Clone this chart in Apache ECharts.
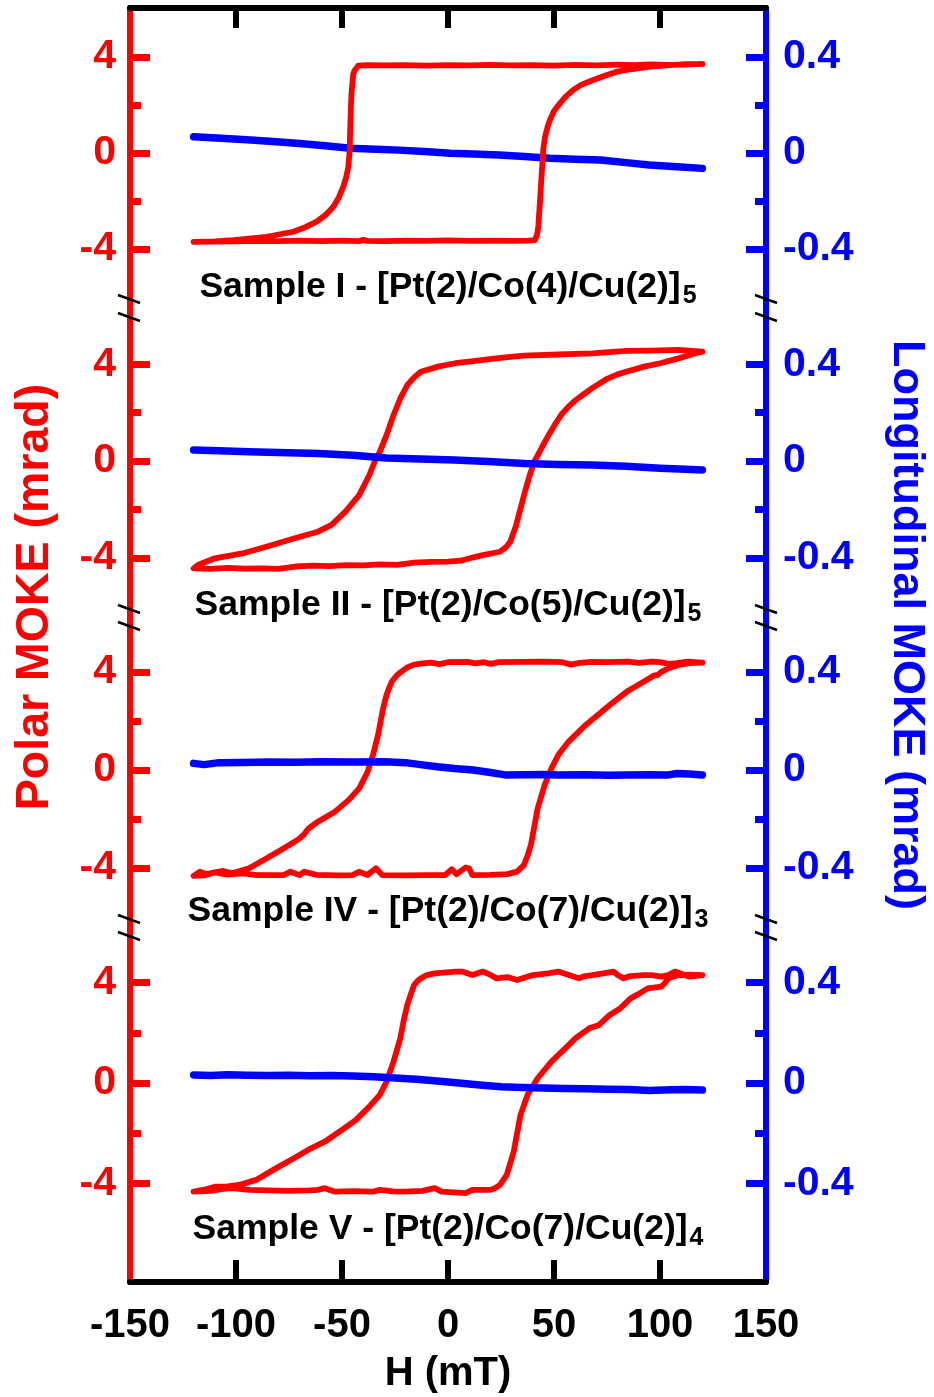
<!DOCTYPE html>
<html><head><meta charset="utf-8">
<script src="https://cdn.jsdelivr.net/npm/echarts@6/dist/echarts.min.js"></script>
<style>html,body{margin:0;padding:0;background:#fff}#c{width:934px;height:1397px}</style>
</head><body><div id="c"></div>
<script>
// ---------------- DATA (H in mT, Polar MOKE in mrad, Longitudinal MOKE in mrad) ----------------
const xTickLabels = [-150, -100, -50, 0, 50, 100, 150];
const polarTicks = [-4, 0, 4];
const polarMinorTicks = [-2, 2];
const longTicks = [-0.4, 0, 0.4];
const longMinorTicks = [-0.2, 0.2];

const sampleLabels = ['Sample I - [Pt(2)/Co(4)/Cu(2)]', 'Sample II - [Pt(2)/Co(5)/Cu(2)]', 'Sample IV - [Pt(2)/Co(7)/Cu(2)]', 'Sample V - [Pt(2)/Co(7)/Cu(2)]'];
const sampleRepeats = ['5', '5', '3', '4'];

// Sample I
const sampleI_polarDown = [[120,3.71],[112,3.68],[104,3.67],[96,3.69],[88,3.66],[80,3.68],[70,3.65],[60,3.67],[50,3.64],[40,3.66],[30,3.65],[20,3.67],[10,3.65],[0,3.66],[-10,3.64],[-20,3.66],[-30,3.65],[-38,3.66],[-42.3,3.64],[-44,3.45],[-44.7,3.3],[-45.5,2.5],[-45.8,1.9],[-46.2,0.8],[-46.4,0.1],[-47,-0.57],[-48,-1.0],[-49.4,-1.40],[-51.5,-1.85],[-54.1,-2.24],[-58,-2.6],[-62,-2.86],[-67,-3.08],[-73,-3.28],[-85.5,-3.49],[-101,-3.63],[-110,-3.68],[-120,-3.70]];
const sampleI_polarUp = [[-120,-3.70],[-110,-3.69],[-100,-3.68],[-90,-3.66],[-80,-3.67],[-70,-3.65],[-60,-3.67],[-50,-3.65],[-42,-3.67],[-40,-3.62],[-38,-3.66],[-30,-3.67],[-20,-3.65],[-10,-3.66],[0,-3.64],[10,-3.66],[20,-3.65],[30,-3.66],[38,-3.65],[41,-3.63],[42,-3.4],[42.6,-3.07],[43.4,-2.0],[44.2,-0.85],[45,0.2],[45.8,0.68],[47,1.1],[48.1,1.38],[50,1.75],[52.8,2.07],[55.5,2.35],[59.1,2.63],[63,2.85],[68.5,3.04],[74,3.22],[79.6,3.39],[87,3.5],[95.3,3.6],[105,3.66],[112,3.70],[120,3.71]];
const sampleI_longit = [[-120,0.068],[-107,0.061],[-93,0.054],[-81,0.047],[-70,0.040],[-58,0.030],[-46,0.020],[-34,0.016],[-23,0.012],[-11,0.006],[1,-0.001],[12,-0.004],[24,-0.008],[36,-0.015],[48,-0.022],[60,-0.026],[72,-0.029],[84,-0.040],[95,-0.050],[108,-0.057],[120,-0.064]];

// Sample II
const sampleII_polarDown = [[120,4.52],[108.7,4.59],[96,4.56],[84.4,4.55],[76,4.50],[68.2,4.45],[52,4.40],[35.8,4.35],[27,4.28],[19.6,4.21],[11,4.12],[3.4,4.04],[-4.7,3.90],[-12.8,3.69],[-16,3.45],[-19.2,3.14],[-22.5,2.59],[-25.7,1.90],[-29,1.07],[-32.2,0.38],[-34.6,-0.03],[-37.1,-0.58],[-41.9,-1.41],[-48.4,-2.09],[-54.9,-2.64],[-61.4,-2.92],[-72.7,-3.20],[-85.7,-3.54],[-97,-3.82],[-110,-4.02],[-118,-4.30],[-120,-4.44]];
const sampleII_polarUp = [[-120,-4.44],[-112,-4.46],[-104,-4.42],[-96,-4.45],[-88,-4.44],[-80,-4.46],[-72,-4.36],[-64,-4.32],[-56,-4.34],[-48,-4.30],[-40,-4.31],[-32,-4.27],[-24,-4.29],[-16,-4.20],[-8,-4.17],[0,-4.16],[6,-4.12],[12,-3.98],[17,-3.88],[24.5,-3.75],[27.5,-3.55],[29.4,-3.33],[32,-2.7],[34.2,-1.96],[36.5,-1.2],[38.5,-0.6],[40.7,-0.03],[43,0.35],[45.6,0.78],[48,1.15],[50.4,1.50],[53.5,1.92],[56.9,2.25],[60,2.50],[63.4,2.72],[68.2,3.02],[74.7,3.38],[80,3.58],[84.4,3.70],[92.5,3.90],[100.6,4.05],[108.7,4.24],[116.8,4.45],[120,4.52]];
const sampleII_longit = [[-120,0.045],[-108,0.042],[-94,0.038],[-80,0.035],[-61,0.031],[-45,0.024],[-29,0.012],[-13,0.008],[3,0.004],[19,-0.002],[36,-0.010],[52,-0.014],[68,-0.017],[84,-0.022],[100,-0.030],[112,-0.034],[120,-0.037]];

// Sample IV
const sampleIV_polarDown = [[120,4.38],[113,4.42],[108,4.36],[104,4.33],[100,4.40],[96,4.42],[90,4.37],[85,4.42],[75,4.40],[68,4.41],[62,4.37],[58,4.30],[54,4.40],[45,4.42],[35,4.41],[24,4.40],[20,4.33],[17,4.40],[13,4.35],[9,4.41],[0,4.40],[-4,4.32],[-8,4.38],[-12,4.35],[-16,4.30],[-19,4.20],[-21,4.08],[-24,3.88],[-26.5,3.61],[-28,3.3],[-29,3.06],[-30.6,2.52],[-33,1.43],[-35.4,0.61],[-37.9,-0.07],[-41.9,-0.75],[-46.8,-1.22],[-53.3,-1.70],[-61.4,-2.11],[-66,-2.40],[-67.8,-2.62],[-71,-2.86],[-77.6,-3.20],[-85.7,-3.61],[-93.8,-4.01],[-101.9,-4.22],[-106,-4.12],[-110,-4.18],[-114,-4.25],[-117,-4.15],[-120,-4.32]];
const sampleIV_polarUp = [[-120,-4.32],[-115,-4.30],[-110,-4.18],[-104,-4.27],[-97,-4.22],[-90,-4.29],[-80,-4.29],[-77.6,-4.29],[-74.3,-4.15],[-70,-4.29],[-67.8,-4.15],[-62,-4.28],[-52,-4.30],[-45,-4.29],[-42,-4.15],[-38,-4.28],[-34,-4.01],[-31,-4.29],[-20,-4.30],[-10,-4.29],[-1.4,-4.29],[1.8,-4.05],[4,-4.25],[8.3,-3.98],[10,-4.02],[11.5,-4.29],[20,-4.28],[28,-4.25],[32.6,-4.15],[35.8,-3.88],[37.5,-3.5],[39.1,-3.06],[42.3,-1.56],[45.6,-0.61],[48.8,0.07],[52,0.61],[56.9,1.16],[65,1.84],[76.3,2.65],[84.4,3.20],[92.5,3.61],[97,3.85],[99,3.88],[100.6,4.01],[104,4.15],[108.7,4.29],[114,4.36],[120,4.38]];
const sampleIV_longit = [[-120,0.027],[-115,0.022],[-108,0.030],[-97,0.031],[-85,0.033],[-72,0.032],[-60,0.034],[-45,0.033],[-30,0.034],[-20,0.030],[-13,0.022],[-5,0.013],[3,0.006],[12,0.0],[20,-0.010],[27,-0.020],[36,-0.019],[45,-0.018],[52,-0.020],[65,-0.019],[76,-0.021],[84,-0.020],[95,-0.019],[104,-0.020],[108,-0.014],[114,-0.016],[120,-0.020]];

// Sample V
const sampleV_polarDown = [[120,4.30],[116,4.26],[113.6,4.24],[110,4.35],[107.1,4.44],[103.9,4.30],[100.6,4.24],[96,4.30],[92.5,4.30],[86,4.26],[82.8,4.17],[80,4.30],[78,4.44],[74,4.38],[68.2,4.30],[64,4.25],[61.8,4.17],[57,4.30],[52,4.44],[47.2,4.37],[40,4.30],[32.6,4.10],[28,4.22],[22.9,4.17],[19,4.35],[16.4,4.44],[11.5,4.30],[6.7,4.44],[3.4,4.44],[-2,4.40],[-6.3,4.37],[-10,4.30],[-12.8,4.17],[-14.5,4.05],[-16,3.90],[-17.5,3.55],[-19.2,3.11],[-21,2.45],[-22.5,1.78],[-25.7,0.85],[-29,0.05],[-32.2,-0.48],[-37.1,-0.94],[-43.5,-1.48],[-50,-1.87],[-58.1,-2.34],[-64.6,-2.60],[-72.7,-3.0],[-82.4,-3.46],[-90.5,-3.86],[-98.6,-4.06],[-104,-4.12],[-110,-4.13],[-115,-4.25],[-120,-4.33]];
const sampleV_polarUp = [[-120,-4.33],[-112,-4.30],[-106,-4.22],[-101.9,-4.19],[-93.8,-4.26],[-85,-4.28],[-75,-4.30],[-65,-4.28],[-61.4,-4.26],[-58.1,-4.19],[-53.3,-4.33],[-45,-4.31],[-35.4,-4.33],[-32.2,-4.26],[-26,-4.32],[-20.9,-4.33],[-12,-4.30],[-6.3,-4.19],[-3,-4.33],[3,-4.36],[8.3,-4.39],[11.5,-4.26],[19.6,-4.26],[22,-4.20],[24.5,-4.06],[27.7,-3.66],[31,-2.73],[34.2,-1.27],[37.5,-0.48],[42.3,0.19],[48.8,0.85],[55.3,1.38],[60.1,1.78],[66.6,2.18],[71,2.30],[76.3,2.71],[81.2,2.97],[86.1,3.37],[90,3.55],[94.2,3.77],[100.6,3.84],[102,3.95],[103.9,4.17],[108.7,4.30],[114,4.32],[120,4.30]];
const sampleV_longit = [[-120,0.032],[-112,0.030],[-104,0.033],[-95,0.031],[-85,0.030],[-75,0.031],[-65,0.029],[-55,0.030],[-45,0.028],[-35,0.025],[-25,0.020],[-15,0.015],[-5,0.008],[5,0.000],[15,-0.008],[25,-0.015],[35,-0.018],[45,-0.020],[55,-0.022],[65,-0.023],[75,-0.025],[85,-0.026],[95,-0.030],[105,-0.027],[112,-0.026],[120,-0.028]];

// ---------------- LAYOUT ----------------
const FONT = '"Liberation Sans", Arial, Helvetica, sans-serif';
const RED = '#ff0000', BLUE = '#0000ff', BLACK = '#000000';
const L = 130, R = 766;
const panels = [
  {top: 8,   bottom: 308,  min: -6.458, max: 6.042, labelY: 287,  down: sampleI_polarDown,   up: sampleI_polarUp,   lon: sampleI_longit,   redTop: true},
  {top: 308, bottom: 617,  min: -6.446, max: 6.322, labelY: 605,  down: sampleII_polarDown,  up: sampleII_polarUp,  lon: sampleII_longit,  redTop: false},
  {top: 617, bottom: 926,  min: -6.367, max: 6.245, labelY: 911,  down: sampleIV_polarDown,  up: sampleIV_polarUp,  lon: sampleIV_longit,  redTop: false},
  {top: 926, bottom: 1282, min: -7.928, max: 6.255, labelY: 1229, down: sampleV_polarDown,   up: sampleV_polarUp,   lon: sampleV_longit,   redTop: false}
];
const breaks = [[299, 317], [609, 626], [919, 936]];

const grid = [], xAxis = [], yAxis = [], series = [], graphic = [];
panels.forEach((p, i) => {
  grid.push({left: L, width: R - L, top: p.top, height: p.bottom - p.top, containLabel: false, outerBoundsMode: 'none'});
  const xa = {type: 'value', gridIndex: i, min: -150, max: 150, interval: 50, show: false,
    axisLine: {onZero: false}, splitLine: {show: false}};
  if (i === 0) {
    Object.assign(xa, {show: true, position: 'top',
      axisLine: {show: true, onZero: false, lineStyle: {color: BLACK, width: 6}},
      axisTick: {show: true, inside: true, length: 20, customValues: [-100, -50, 0, 50, 100], lineStyle: {color: BLACK, width: 6}},
      axisLabel: {show: false}});
  }
  if (i === panels.length - 1) {
    Object.assign(xa, {show: true, position: 'bottom',
      axisLine: {show: true, onZero: false, lineStyle: {color: BLACK, width: 6}},
      axisTick: {show: true, inside: true, length: 22, customValues: [-100, -50, 0, 50, 100], lineStyle: {color: BLACK, width: 6}},
      axisLabel: {show: true, customValues: xTickLabels, showMinLabel: true, showMaxLabel: true, color: BLACK, fontSize: 40, fontWeight: 'bold', fontFamily: FONT, margin: 24},
      name: 'H (mT)', nameLocation: 'middle', nameGap: 72,
      nameTextStyle: {color: BLACK, fontSize: 40, fontWeight: 'bold', fontFamily: FONT}});
  }
  xAxis.push(xa);

  const base = (pos, color, min, max, ticks) => ({
    type: 'value', gridIndex: i, position: pos, min: min, max: max,
    axisLine: {show: true, onZero: false, lineStyle: {color: color, width: 6}},
    axisTick: {show: true, inside: true, length: 20, customValues: ticks, lineStyle: {color: color, width: 7}},
    axisLabel: {show: true, customValues: ticks, color: color, fontSize: 41, fontWeight: 'bold', fontFamily: FONT, margin: pos === 'left' ? 14 : 17},
    splitLine: {show: false}
  });
  const minor = (pos, color, min, max, ticks) => ({
    type: 'value', gridIndex: i, position: pos, min: min, max: max,
    axisLine: {show: false, onZero: false},
    axisTick: {show: true, inside: true, length: 11, customValues: ticks, lineStyle: {color: color, width: 7}},
    axisLabel: {show: false}, splitLine: {show: false}
  });
  yAxis.push(base('left', RED, p.min, p.max, polarTicks));
  yAxis.push(base('right', BLUE, p.min / 10, p.max / 10, longTicks));
  yAxis.push(minor('left', RED, p.min, p.max, polarMinorTicks));
  yAxis.push(minor('right', BLUE, p.min / 10, p.max / 10, longMinorTicks));

  series.push({type: 'line', name: 'Polar ' + (i + 1), xAxisIndex: i, yAxisIndex: 4 * i,
    data: p.down.concat(p.up), showSymbol: false, symbol: 'none', z: p.redTop ? 4 : 2,
    lineStyle: {color: RED, width: 5.8, cap: 'round', join: 'round'}, animation: false});
  series.push({type: 'line', name: 'Longitudinal ' + (i + 1), xAxisIndex: i, yAxisIndex: 4 * i + 1,
    data: p.lon, showSymbol: false, symbol: 'none', z: 3,
    lineStyle: {color: BLUE, width: 7.5, cap: 'round', join: 'round'}, animation: false});

  graphic.push({type: 'text', x: 448, y: p.labelY, z: 100,
    style: {text: '{a|' + sampleLabels[i] + '}{b|' + sampleRepeats[i] + '}',
      align: 'center', verticalAlign: 'middle',
      rich: {a: {fontSize: 35.5, fontWeight: 'bold', fontFamily: FONT, fill: BLACK},
             b: {fontSize: 25, fontWeight: 'bold', fontFamily: FONT, fill: BLACK, padding: [18, 0, 0, 2]}}}});
});

breaks.forEach(pair => pair.forEach(y => {
  [[118, 140], [755, 777]].forEach(([x1, x2]) => {
    graphic.push({type: 'line', z: 100, shape: {x1: x1, y1: y - 4, x2: x2, y2: y + 4},
      style: {stroke: BLACK, lineWidth: 2.5}});
  });
}));

graphic.push({type: 'text', x: 35, y: 597, rotation: Math.PI / 2, z: 100,
  style: {text: 'Polar MOKE (mrad)', font: 'bold 46.5px ' + FONT, fill: RED, align: 'center', verticalAlign: 'middle'}});
graphic.push({type: 'text', x: 906, y: 625, rotation: -Math.PI / 2, z: 100,
  style: {text: 'Longitudinal MOKE (mrad)', font: 'bold 45px ' + FONT, fill: BLUE, align: 'center', verticalAlign: 'middle'}});

const chart = echarts.init(document.getElementById('c'), null, {renderer: 'canvas'});
chart.setOption({animation: false, backgroundColor: '#ffffff', grid, xAxis, yAxis, series, graphic});
</script></body></html>
